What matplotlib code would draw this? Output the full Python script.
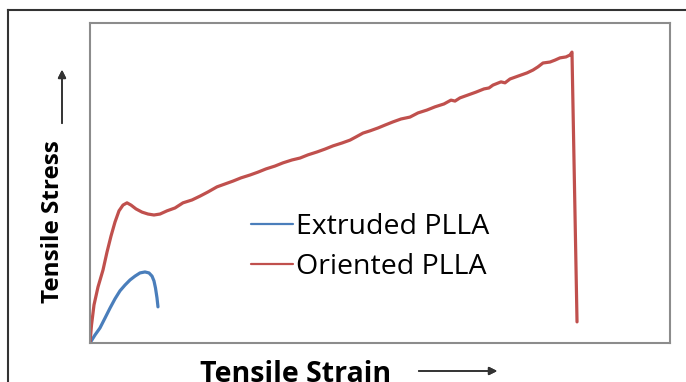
import matplotlib
matplotlib.use("Agg")
import matplotlib.pyplot as plt
from matplotlib.lines import Line2D

# stress-strain curves, arbitrary units (0-100 on both axes)
oriented_strain = [0.0, 0.26, 0.69, 1.38, 2.24, 2.93, 3.62, 4.31, 5.0, 5.69, 6.38, 7.07,
                   7.93, 8.97, 10.0, 11.03, 12.07, 13.28, 14.66, 16.03, 17.59, 18.97,
                   20.34, 21.9, 23.28, 24.66, 26.03, 27.59, 28.97, 30.34, 31.9, 33.28,
                   34.83, 36.21, 37.59, 39.14, 40.52, 41.9, 43.45, 44.83, 45.86, 47.07,
                   48.28, 49.66, 50.86, 52.24, 53.62, 55.17, 56.55, 58.1, 59.48, 61.03,
                   62.24, 62.93, 63.79, 65.17, 66.55, 67.93, 68.79, 69.48, 70.86, 71.55,
                   72.41, 73.79, 75.34, 76.38, 77.24, 78.1, 79.31, 80.17, 81.03, 82.07,
                   82.76, 83.1, 83.97]
oriented_stress = [0.0, 5.6, 11.9, 17.5, 22.8, 28.4, 33.4, 37.8, 41.3, 43.1, 43.8, 43.1,
                   41.9, 40.9, 40.3, 40.0, 40.3, 41.3, 42.2, 43.8, 44.7, 45.9,
                   47.2, 48.8, 49.7, 50.6, 51.6, 52.5, 53.4, 54.4, 55.3, 56.3,
                   57.2, 57.8, 58.8, 59.7, 60.6, 61.6, 62.5, 63.4, 64.4, 65.6,
                   66.3, 67.2, 68.1, 69.1, 70.0, 70.6, 71.9, 72.8, 73.8, 74.7,
                   75.9, 75.6, 76.6, 77.5, 78.4, 79.4, 79.7, 80.6, 81.6, 81.3,
                   82.5, 83.4, 84.4, 85.3, 86.3, 87.5, 87.8, 88.4, 89.1, 89.4,
                   90.0, 90.9, 6.6]

extruded_strain = [0.0, 0.86, 1.72, 2.59, 3.45, 4.31, 5.17, 6.03, 6.9, 7.76, 8.62, 9.48,
                   10.17, 10.69, 11.03, 11.29, 11.55, 11.72]
extruded_stress = [0.0, 2.5, 4.7, 7.8, 10.9, 13.8, 16.3, 18.1, 19.7, 20.9, 21.9, 22.2,
                   21.9, 20.9, 19.4, 17.2, 14.1, 11.3]

BLUE = "#4a7ebb"
RED = "#c0504d"
FONT = ["Open Sans", "DejaVu Sans"]

W, H = 686, 382
fig = plt.figure(figsize=(W / 100, H / 100), dpi=100)
ax = fig.add_axes([90 / W, 1 - 343 / H, 580 / W, 320 / H])

ax.plot(extruded_strain, extruded_stress, color=BLUE, linewidth=2.3,
        solid_capstyle="round", label="Extruded PLLA")
ax.plot(oriented_strain, oriented_stress, color=RED, linewidth=2.3,
        solid_capstyle="round", label="Oriented PLLA")
ax.set_xlim(0, 100)
ax.set_ylim(0, 100)
ax.set_xticks([])
ax.set_yticks([])
for s in ax.spines.values():
    s.set_color("#8c8c8c")
    s.set_linewidth(1.5)

leg = ax.legend(loc="center left", bbox_to_anchor=(0.233, 0.30), frameon=False,
                prop={"family": FONT, "size": 20.5}, handlelength=1.5,
                handletextpad=0.1, labelspacing=0.4)
for h in leg.get_lines():
    h.set_linewidth(1.6)

# axis titles with arrows
fig.text(296 / W, 1 - 374 / H, "Tensile Strain", ha="center", va="center",
         family=FONT, fontweight="bold", fontsize=20.5)
fig.text(53 / W, 1 - 222 / H, "Tensile Stress", ha="center", va="center",
         rotation=90, family=FONT, fontweight="bold", fontsize=17.5)
arrow = dict(arrowstyle="-|>", color="#333333", lw=1.2, mutation_scale=12)
fig.add_artist(plt.annotate("", xy=(500 / W, 1 - 371 / H), xytext=(416 / W, 1 - 371 / H),
                            xycoords="figure fraction", arrowprops=arrow))
fig.add_artist(plt.annotate("", xy=(62 / W, 1 - 67 / H), xytext=(62 / W, 1 - 126 / H),
                            xycoords="figure fraction", arrowprops=arrow))

# outer frame (top and left visible)
fig.add_artist(Line2D([8 / W, 1], [1 - 10 / H, 1 - 10 / H], color="#333333", lw=1.5))
fig.add_artist(Line2D([8 / W, 8 / W], [0, 1 - 10 / H], color="#333333", lw=1.5))

fig.savefig("out.png", dpi=100)
